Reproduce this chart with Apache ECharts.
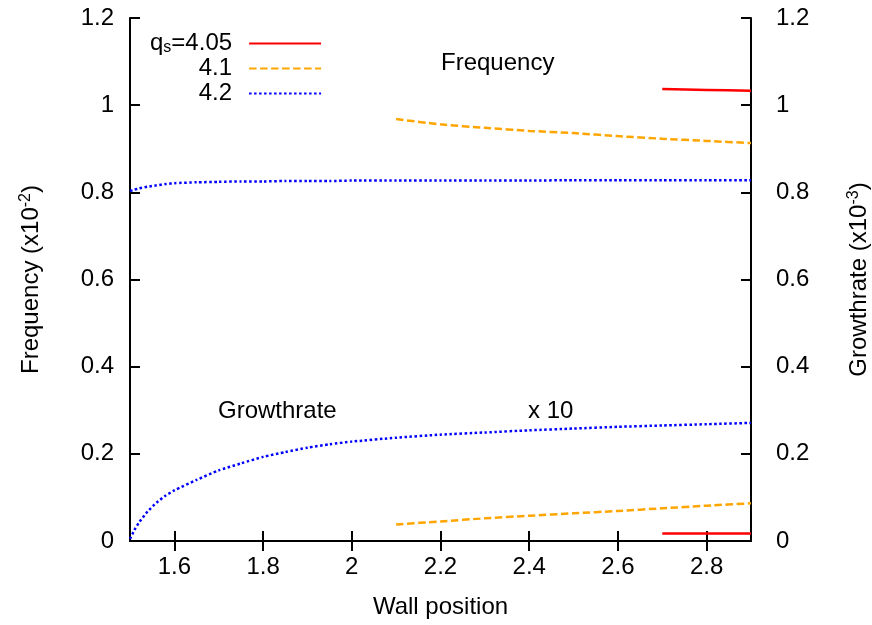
<!DOCTYPE html>
<html><head><meta charset="utf-8">
<script src="https://cdn.jsdelivr.net/npm/echarts@6/dist/echarts.min.js"></script>
<style>html,body{margin:0;padding:0;background:#fff}#c{width:872px;height:625px}</style>
</head><body><div id="c"></div>
<script>
// ---- data ----
const xTicks = [1.6, 1.8, 2.0, 2.2, 2.4, 2.6, 2.8];
const yTicks = [0, 0.2, 0.4, 0.6, 0.8, 1.0, 1.2];

const xRed = [2.7, 2.8, 2.9];
const freqRed = [1.037, 1.035, 1.033];
const growRed = [0.017, 0.017, 0.017];

const xOrange = [2.1, 2.2, 2.3, 2.4, 2.5, 2.6, 2.7, 2.8, 2.9];
const freqOrange = [0.968, 0.956, 0.948, 0.941, 0.936, 0.929, 0.923, 0.918, 0.913];
const growOrange = [0.038, 0.045, 0.052, 0.058, 0.0635, 0.069, 0.075, 0.081, 0.0865];

const xBlue = [1.5, 1.51, 1.52, 1.54, 1.56, 1.58, 1.6, 1.65, 1.7, 1.75, 1.8, 1.85, 1.9, 1.95, 2.0, 2.1, 2.2, 2.3, 2.4, 2.5, 2.6, 2.7, 2.8, 2.9];
const freqBlue = [0.803, 0.806, 0.809, 0.813, 0.816, 0.819, 0.821, 0.823, 0.824, 0.825, 0.825, 0.826, 0.826, 0.826, 0.827, 0.827, 0.827, 0.827, 0.827, 0.828, 0.828, 0.828, 0.828, 0.828];
const growBlue = [0.005, 0.025, 0.042, 0.068, 0.088, 0.104, 0.116, 0.14, 0.162, 0.178, 0.193, 0.204, 0.214, 0.222, 0.228, 0.237, 0.244, 0.249, 0.254, 0.258, 0.262, 0.265, 0.268, 0.271];

const seriesNames = ['4.05', '4.1', '4.2'];
// ---- end data ----

const zip = (xs, ys) => xs.map((x, i) => [x, ys[i]]);
const FONT = 'Liberation Sans, Arial, sans-serif';
const FS = 24;
const styles = {
  '4.05': {color: '#ff0000', type: 'solid'},
  '4.1': {color: '#ffa500', type: [7.5, 3.5]},
  '4.2': {color: '#0000ff', type: [2.5, 2.5]}
};
function mk(name, xs, ys, yIdx) {
  return {
    name: name, type: 'line', xAxisIndex: 0, yAxisIndex: yIdx,
    data: zip(xs, ys), symbol: 'none', smooth: 0.2,
    lineStyle: {color: styles[name].color, type: styles[name].type, width: 2.5},
    itemStyle: {color: styles[name].color},
    emphasis: {disabled: true}, animation: false
  };
}
const axisCommon = {
  axisLine: {show: true, lineStyle: {color: '#000', width: 2}},
  splitLine: {show: false}
};
const chart = echarts.init(document.getElementById('c'), null, {renderer: 'canvas'});
chart.setOption({
  animation: false,
  backgroundColor: '#fff',
  grid: {left: 130, right: 121, top: 18, bottom: 84, containLabel: false, outerBoundsMode: 'none'},
  textStyle: {fontFamily: FONT},
  legend: {
    orient: 'vertical', left: 145, top: 26, align: 'right',
    itemWidth: 72, itemHeight: 14, itemGap: 0,
    itemStyle: {opacity: 0},
    data: seriesNames,
    textStyle: {fontFamily: FONT, fontSize: FS, color: '#000', lineHeight: 25,
      rich: {
        q: {fontSize: FS, fontFamily: FONT, color: '#000', lineHeight: 25},
        s: {fontSize: 16, fontFamily: FONT, color: '#000', verticalAlign: 'bottom', lineHeight: 16},
        v: {fontSize: FS, fontFamily: FONT, color: '#000', lineHeight: 25, padding: [0, 12, 0, 0]},
        w: {fontSize: FS, fontFamily: FONT, color: '#000', lineHeight: 25, width: 82, align: 'right', padding: [0, 12, 0, 0]}
      }},
    formatter: function (n) { return n === '4.05' ? '{q|q}{s|s}{v|=4.05}' : '{w|' + n + '}'; }
  },
  xAxis: [{
    type: 'value', min: 1.5, max: 2.9, position: 'bottom', ...axisCommon,
    name: 'Wall position', nameLocation: 'middle', nameGap: 54,
    nameTextStyle: {fontSize: FS, color: '#000', fontFamily: FONT},
    axisTick: {show: true, inside: true, length: 10, lineStyle: {color: '#000', width: 2}, customValues: xTicks},
    axisLabel: {show: true, color: '#000', fontSize: FS, fontFamily: FONT, margin: 14, customValues: xTicks,
      formatter: v => String(Math.round(v * 10) / 10)}
  }, {
    type: 'value', min: 1.5, max: 2.9, position: 'top', ...axisCommon,
    axisTick: {show: true, inside: true, length: 10, lineStyle: {color: '#000', width: 2}, customValues: xTicks},
    axisLabel: {show: false}
  }],
  yAxis: [{
    type: 'value', min: 0, max: 1.2, interval: 0.2, position: 'left', ...axisCommon,
    name: '{a|Frequency (x10}{b|-2}{a|)}', nameLocation: 'middle', nameGap: 86,
    nameTextStyle: {color: '#000', rich: {a: {fontSize: FS, fontFamily: FONT, color: '#000'}, b: {fontSize: 16, fontFamily: FONT, color: '#000', verticalAlign: 'top', padding: [0, 0, 10, 0]}}},
    axisTick: {show: true, inside: true, length: 10, lineStyle: {color: '#000', width: 2}},
    axisLabel: {color: '#000', fontSize: FS, fontFamily: FONT, margin: 16, formatter: v => String(Math.round(v * 10) / 10)}
  }, {
    type: 'value', min: 0, max: 1.2, interval: 0.2, position: 'right', ...axisCommon,
    name: '{a|Growthrate (x10}{b|-3}{a|)}', nameLocation: 'middle', nameGap: 95,
    nameTextStyle: {color: '#000', rich: {a: {fontSize: FS, fontFamily: FONT, color: '#000'}, b: {fontSize: 16, fontFamily: FONT, color: '#000', verticalAlign: 'top', padding: [0, 0, 10, 0]}}},
    axisTick: {show: true, inside: true, length: 10, lineStyle: {color: '#000', width: 2}},
    axisLabel: {color: '#000', fontSize: FS, fontFamily: FONT, margin: 25, formatter: v => String(Math.round(v * 10) / 10)}
  }],
  graphic: [
    {type: 'text', left: 441, top: 51, style: {text: 'Frequency', fontSize: FS, fontFamily: FONT, fill: '#000'}},
    {type: 'text', left: 218, top: 399, style: {text: 'Growthrate', fontSize: FS, fontFamily: FONT, fill: '#000'}},
    {type: 'text', left: 528, top: 399, style: {text: 'x 10', fontSize: FS, fontFamily: FONT, fill: '#000'}}
  ],
  series: [
    mk('4.05', xRed, freqRed, 0),
    mk('4.1', xOrange, freqOrange, 0),
    mk('4.2', xBlue, freqBlue, 0),
    mk('4.05', xRed, growRed, 1),
    mk('4.1', xOrange, growOrange, 1),
    mk('4.2', xBlue, growBlue, 1)
  ]
});
</script></body></html>
